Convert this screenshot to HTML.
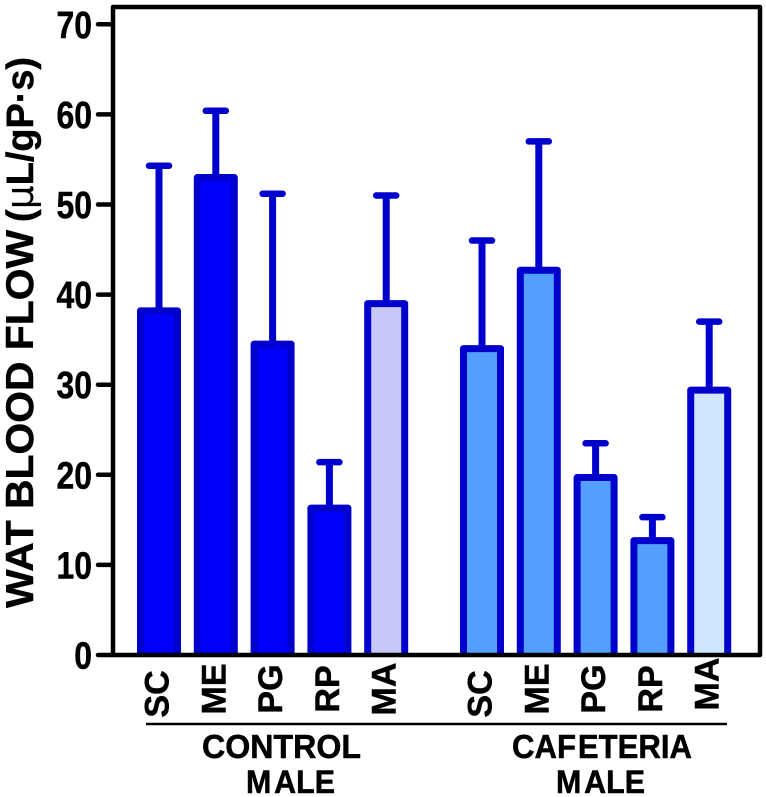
<!DOCTYPE html>
<html lang="en">
<head>
<meta charset="utf-8">
<title>WAT Blood Flow</title>
<style>
html,body{margin:0;padding:0;background:#fff;width:766px;height:797px;overflow:hidden}
svg{display:block}
text{font-family:"Liberation Sans",Arial,sans-serif;font-weight:bold;fill:#000;stroke:#000;stroke-width:.5px}
</style>
</head>
<body>
<svg id="chart" xmlns="http://www.w3.org/2000/svg" width="766" height="797" viewBox="0 0 766 797">
  <rect x="0" y="0" width="766" height="797" fill="#fff"/>
  <g id="bars"></g>
  <rect x="113" y="7" width="647" height="648" fill="none" stroke="#000" stroke-width="4.5" stroke-linejoin="round"/>
  <g id="ticks"></g>
  <g id="cats"></g>
  <text transform="translate(33,608) rotate(-90)" font-size="39" textLength="378" lengthAdjust="spacingAndGlyphs">WAT BLOOD FLOW</text>
  <text transform="translate(33,222) rotate(-90)" font-size="38" textLength="165" lengthAdjust="spacingAndGlyphs">(<tspan font-family="DejaVu Sans" font-weight="normal" stroke="none">μ</tspan>L/gP·s)</text>
  <line x1="146" y1="724" x2="727" y2="724" stroke="#000" stroke-width="2.5"/>
  <text x="202" y="758" font-size="33" textLength="159" lengthAdjust="spacingAndGlyphs">CONTROL</text>
  <text x="246" y="793" font-size="32" textLength="89" lengthAdjust="spacingAndGlyphs">M<tspan dx="3">ALE</tspan></text>
  <text x="512" y="758" font-size="33" textLength="180" lengthAdjust="spacingAndGlyphs">CAF<tspan dx="2">ETERIA</tspan></text>
  <text x="556" y="793" font-size="32" textLength="89" lengthAdjust="spacingAndGlyphs">M<tspan dx="3">ALE</tspan></text>
</svg>
<script>
const categories = ['SC', 'ME', 'PG', 'RP', 'MA', 'SC', 'ME', 'PG', 'RP', 'MA'];
const means = [38.2, 53.0, 34.5, 16.3, 39.0, 34.0, 42.7, 19.7, 12.7, 29.4];
const errorTops = [54.3, 60.4, 51.2, 21.4, 51.0, 46.0, 57.0, 23.5, 15.3, 37.0];
const groups = ['control', 'control', 'control', 'control', 'control', 'cafeteria', 'cafeteria', 'cafeteria', 'cafeteria', 'cafeteria'];
const yTicks = [0, 10, 20, 30, 40, 50, 60, 70];

const SVGNS = 'http://www.w3.org/2000/svg';
const STROKE = '#0000cc';
const yScale = v => 655 - v * 9.01;
const xScale = i => 159 + i * 56.8 + (groups[i] === 'cafeteria' ? 39 : 0);
const fillFor = i => {
  if (groups[i] === 'control') return categories[i] === 'MA' ? '#c8c8f8' : '#0000fa';
  return categories[i] === 'MA' ? '#cfe6ff' : '#539fff';
};
const labelCentre = i => {
  const c = categories[i];
  if (c === 'SC') return 694;
  if (c === 'MA') return groups[i] === 'control' ? 689 : 684;
  return 689;
};
function make(tag, attrs, parent) {
  const el = document.createElementNS(SVGNS, tag);
  for (const k in attrs) el.setAttribute(k, attrs[k]);
  parent.appendChild(el);
  return el;
}

const barsG = document.getElementById('bars');
means.forEach((m, i) => {
  const cx = xScale(i);
  const top = yScale(m);
  const errTop = yScale(errorTops[i]);
  const base = yScale(0);
  const key = groups[i] + '-' + categories[i].toLowerCase();

  const stem = make('line', {x1: cx, x2: cx, y1: top, y2: errTop, stroke: STROKE, 'stroke-width': 7}, barsG);
  
  

  const cap = make('line', {x1: cx - 10, x2: cx + 10, y1: errTop, y2: errTop, stroke: STROKE, 'stroke-width': 6.5, 'stroke-linecap': 'round'}, barsG);
  
  

  const d = 'M' + (cx - 18.5) + ' ' + base + 'V' + top + 'H' + (cx + 18.5) + 'V' + base;
  const bar = make('path', {d: d, fill: fillFor(i), stroke: STROKE, 'stroke-width': 7, 'stroke-linejoin': 'round'}, barsG);
  
  
});

const ticksG = document.getElementById('ticks');
yTicks.forEach(t => {
  const y = yScale(t);
  const tick = make('line', {x1: 98, x2: 112, y1: y, y2: y, stroke: '#000', 'stroke-width': 4.5, 'stroke-linecap': 'round'}, ticksG);
  
  

  const label = make('text', {'text-anchor': 'end', transform: 'translate(92,' + (y + 13.5) + ') scale(0.84,1)', 'font-size': 38}, ticksG);
  label.textContent = String(t);
  
  
});

const catsG = document.getElementById('cats');
categories.forEach((c, i) => {
  const label = make('text', {'text-anchor': 'middle', transform: 'translate(' + (xScale(i) + 9.5) + ',' + labelCentre(i) + ') rotate(-90)', 'font-size': 34}, catsG);
  label.textContent = c;
  
  
});
</script>
</body>
</html>
